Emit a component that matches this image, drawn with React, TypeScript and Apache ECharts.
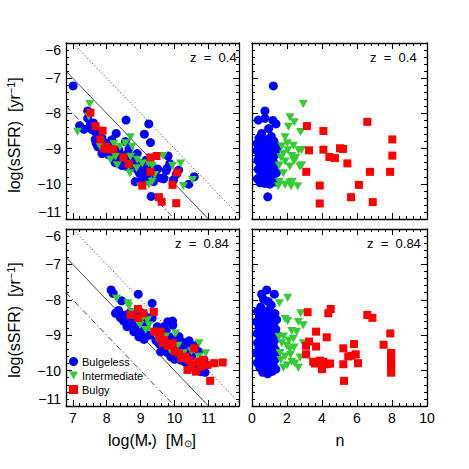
import { useEffect, useRef } from 'react';
import * as echarts from 'echarts';

const MASS_MIN = 6.8;
const MASS_MAX = 11.9;
const N_MIN = 0;
const N_MAX = 10;
const SSFR_MIN = -11;
const SSFR_MAX = -6;

// constant log SFR lines: log sSFR = c - log M
const sfrLevels = [1, 0, -1];
const sfrLineTypes: any[] = [[1.2, 2.2], 'solid', [6, 2.5, 1.2, 2.5]];

const classNames = ['Bulgeless', 'Intermediate', 'Bulgy'];
const classColors = ['#0000ff', '#33cc33', '#ff0000'];
const zLabels = ['z  =  0.4', 'z  =  0.84'];

// ---------- z = 0.4, log M vs log sSFR ----------
const tlBulgeless = [
  [7.01, -7.22], [7.2, -8.35], [7.33, -8.45], [7.44, -8.14], [7.44, -7.93], [7.52, -8.3], [7.56, -8.46],
  [7.61, -8.27], [7.66, -8.52], [7.72, -8.57], [7.76, -8.66], [7.66, -8.74], [7.69, -8.85], [7.74, -8.95],
  [7.8, -8.8], [7.86, -8.7], [7.86, -9.14], [7.9, -8.99], [7.95, -8.84], [8.0, -9.04], [8.06, -9.18],
  [8.1, -8.93], [8.15, -9.09], [8.2, -9.24], [8.25, -9.4], [8.28, -8.57], [8.3, -9.13], [8.36, -9.04],
  [8.4, -9.33], [8.45, -9.48], [8.5, -9.24], [8.55, -8.8], [8.57, -8.19], [8.6, -9.51], [8.62, -9.14],
  [8.66, -8.99], [8.7, -9.38], [8.75, -9.24], [8.8, -9.53], [8.84, -9.94], [8.86, -9.38], [8.9, -9.14],
  [8.93, -9.63], [8.97, -9.71], [9.0, -9.43], [9.05, -9.82], [9.1, -9.58], [9.11, -8.59], [9.16, -9.33],
  [9.2, -9.73], [9.24, -8.3], [9.29, -8.83], [9.3, -9.53], [9.31, -10.36], [9.36, -9.63], [9.38, -9.94],
  [9.45, -9.78], [9.5, -9.58], [9.6, -9.84], [9.68, -9.86], [9.75, -9.63], [9.78, -9.56], [9.81, -9.21],
  [9.86, -9.43], [9.97, -9.89], [10.05, -9.73], [10.12, -9.61], [10.42, -10.01], [10.58, -9.8],
  [9.0, -9.95], [9.15, -9.9], [8.45, -9.2], [8.15, -8.75],
];
const tlIntermediate = [
  [7.5, -7.73], [7.47, -8.09], [7.14, -8.52], [8.21, -8.87], [8.39, -8.95], [8.55, -8.85], [8.7, -8.68],
  [8.75, -8.95], [8.26, -9.23], [8.31, -9.47], [8.7, -9.23], [8.65, -9.51], [8.9, -9.32], [8.88, -9.56],
  [8.68, -9.7], [9.05, -9.42], [9.24, -9.42], [9.34, -9.49], [9.0, -10.08], [9.24, -10.03], [9.34, -9.94],
  [9.41, -9.75], [9.66, -9.21], [9.94, -9.49], [10.18, -9.42], [10.26, -10.06], [10.53, -9.89],
  [7.81, -8.95], [8.11, -9.32],
];
const tlBulgy = [
  [7.52, -7.98], [7.67, -8.36], [7.88, -8.49], [7.81, -8.74], [7.93, -9.0], [8.06, -9.02], [8.19, -9.02],
  [8.49, -9.25], [8.65, -9.44], [9.29, -9.25], [9.47, -9.21], [9.29, -9.66], [9.05, -10.05], [9.54, -10.38],
  [9.62, -10.51], [9.94, -10.03], [10.08, -9.68], [10.05, -10.55], [7.99, -8.95],
];

// ---------- z = 0.4, Sersic n vs log sSFR ----------
const trBulgeless = [
  [1.22, -7.22], [0.9, -10.37], [0.74, -7.93], [0.36, -8.19], [0.74, -8.14], [1.2, -8.2], [1.37, -8.3],
  [0.95, -8.43], [0.55, -8.57], [1.1, -8.65], [0.4, -8.7], [0.8, -8.75],
  [0.3, -8.86], [0.62, -8.8], [0.92, -8.87], [1.25, -8.79], [0.45, -8.96], [0.76, -8.98], [1.06, -8.94],
  [1.36, -8.91], [0.29, -9.06], [0.56, -9.09], [0.86, -9.04], [1.16, -9.11], [1.41, -9.03],
  [0.41, -9.21], [0.71, -9.17], [1.02, -9.23], [1.29, -9.19], [0.33, -9.33], [0.61, -9.36], [0.91, -9.3],
  [1.21, -9.37], [0.46, -9.46], [0.76, -9.49], [1.07, -9.44], [1.34, -9.46], [0.36, -9.59], [0.63, -9.61],
  [0.93, -9.57], [1.22, -9.61], [0.51, -9.73], [0.81, -9.7], [1.11, -9.75], [1.39, -9.69], [0.31, -9.86],
  [0.6, -9.84], [0.89, -9.89], [1.19, -9.85], [0.46, -9.97], [0.73, -9.99], [1.01, -10.01], [1.31, -9.95],
  [0.52, -9.27], [0.84, -9.52], [1.12, -9.29], [0.66, -9.02],
];
const trIntermediate = [
  [2.93, -7.73], [2.17, -8.11], [2.42, -8.25], [2.08, -8.38], [2.78, -8.53], [1.89, -8.68], [2.02, -8.85],
  [1.7, -8.93], [2.36, -8.92], [2.84, -9.04], [2.67, -9.05], [2.05, -9.05], [1.79, -9.15], [2.27, -9.21],
  [2.5, -9.27], [1.89, -9.37], [2.84, -9.47], [1.55, -9.48], [2.16, -9.51], [2.73, -9.51], [1.79, -9.7],
  [1.55, -9.94], [2.16, -9.96], [2.3, -9.94], [1.89, -10.03], [1.5, -10.07], [2.23, -10.07], [2.61, -10.07],
  [2.4, -9.35], [1.65, -9.25],
];
const trBulgy = [
  [3.14, -8.36], [4.08, -8.5], [6.59, -8.24], [8.02, -8.74], [3.26, -9.05], [4.08, -9.03], [4.42, -9.24],
  [4.74, -9.27], [5.03, -8.99], [5.2, -9.01], [5.45, -9.42], [8.02, -9.2], [3.1, -9.66], [6.74, -9.66],
  [7.89, -9.66], [3.87, -10.05], [6.11, -10.03], [5.66, -10.38], [6.9, -10.52], [3.87, -10.56],
];

// ---------- z = 0.84, log M vs log sSFR ----------
const blBulgeless = [
  [8.13, -7.72], [8.19, -7.82], [8.93, -7.84], [9.34, -8.1], [8.44, -8.03], [8.26, -8.38], [8.35, -8.3],
  [8.55, -8.43], [8.5, -8.6], [8.62, -8.52], [8.7, -8.57], [8.75, -8.7], [8.85, -8.45], [8.88, -8.8],
  [9.05, -8.62], [9.0, -8.9], [9.15, -8.75], [9.2, -8.5], [9.34, -8.52], [9.49, -8.76], [9.69, -8.76],
  [9.94, -8.6], [9.95, -8.72], [9.1, -8.9], [9.25, -9.0], [9.34, -8.99], [9.45, -9.15], [9.59, -9.09],
  [9.74, -9.18], [9.89, -9.28], [10.13, -9.04], [10.18, -9.28], [10.43, -9.16], [10.38, -9.37],
  [10.72, -9.47], [10.87, -9.7], [10.77, -10.03], [10.18, -9.7], [9.89, -9.61], [9.59, -9.47], [9.7, -9.35],
  [9.55, -9.25], [8.8, -8.9], [8.6, -8.76], [8.95, -9.05], [9.1, -9.12], [9.8, -9.5], [10.0, -9.4],
  [10.05, -9.55], [10.3, -9.5], [10.5, -9.6], [10.6, -9.85], [10.3, -9.75], [10.0, -9.68], [9.65, -9.0],
  [9.85, -9.05], [10.1, -9.1], [10.25, -9.2], [8.7, -8.35], [9.0, -8.35], [8.4, -8.5], [9.75, -8.88],
  [9.8, -8.62], [10.6, -9.3], [10.45, -9.9], [10.7, -9.95], [10.9, -10.05],
];
const blIntermediate = [
  [8.29, -7.96], [8.62, -8.1], [8.65, -8.18], [8.75, -8.35], [9.05, -8.52], [9.2, -8.57], [8.98, -8.71],
  [9.25, -8.72], [9.1, -8.45], [9.34, -8.9], [9.74, -9.04], [10.03, -8.95], [9.87, -9.42], [10.26, -9.51],
  [10.72, -9.61], [10.92, -9.51], [10.72, -9.23], [9.5, -9.1], [10.1, -9.3], [8.95, -8.6], [9.15, -8.85],
  [10.5, -9.45],
];
const blBulgy = [
  [8.7, -8.43], [8.92, -8.26], [9.08, -8.38], [9.39, -8.34], [8.93, -8.51], [9.41, -8.9], [9.59, -8.9],
  [9.69, -9.14], [9.65, -9.22], [9.94, -9.23], [10.13, -9.51], [10.33, -9.61], [10.58, -9.37],
  [10.42, -9.7], [10.68, -9.75], [10.77, -9.89], [10.97, -9.84], [11.17, -9.79], [11.42, -9.77],
  [10.63, -10.03], [10.38, -9.98], [11.05, -10.29], [9.8, -9.3], [10.0, -9.45], [10.5, -9.85],
  [10.85, -9.7], [10.2, -9.65], [9.55, -9.05],
];

// ---------- z = 0.84, Sersic n vs log sSFR ----------
const brBulgeless = [
  [0.84, -7.72], [0.55, -7.84], [1.28, -7.84], [0.65, -7.98], [0.93, -8.05], [0.5, -8.2], [1.1, -8.15],
  [0.31, -8.33], [0.63, -8.36], [0.96, -8.29], [1.31, -8.39], [0.42, -8.47], [0.79, -8.51], [1.13, -8.45],
  [1.41, -8.56], [0.27, -8.62], [0.58, -8.66], [0.91, -8.6], [1.23, -8.69], [0.41, -8.78], [0.73, -8.81],
  [1.06, -8.75], [1.36, -8.83], [0.3, -8.95], [0.61, -8.92], [0.87, -8.97], [1.18, -8.9], [1.43, -8.99],
  [0.46, -9.08], [0.76, -9.11], [1.05, -9.06], [1.31, -9.13], [0.32, -9.22], [0.63, -9.25], [0.93, -9.2],
  [1.21, -9.27], [0.4, -9.37], [0.71, -9.38], [1.01, -9.34], [1.33, -9.41], [0.28, -9.5], [0.56, -9.53],
  [0.86, -9.48], [1.16, -9.55], [1.42, -9.5], [0.43, -9.64], [0.73, -9.67], [1.03, -9.62], [1.31, -9.69],
  [0.3, -9.78], [0.61, -9.81], [0.9, -9.76], [1.21, -9.83], [0.45, -9.92], [0.76, -9.95], [1.06, -9.9],
  [1.36, -9.96], [0.61, -10.05], [0.9, -10.09], [1.16, -10.02], [0.52, -9.15], [0.82, -9.6], [1.12, -8.62],
];
const brIntermediate = [
  [2.04, -7.94], [1.56, -8.1], [2.78, -8.38], [1.89, -8.54], [2.04, -8.6], [2.65, -8.63], [2.93, -8.72],
  [1.79, -9.04], [2.27, -8.88], [2.55, -8.9], [2.36, -9.1], [2.93, -9.23], [1.7, -9.23], [1.98, -9.3],
  [2.17, -9.4], [2.4, -9.35], [1.6, -9.5], [1.89, -9.6], [2.2, -9.55], [2.74, -9.63], [1.79, -9.92],
  [2.65, -9.92], [2.27, -9.75], [1.65, -9.7], [2.0, -9.85], [2.45, -9.8], [1.55, -9.05], [2.1, -9.15],
];
const brBulgy = [
  [3.18, -8.35], [4.36, -8.38], [4.5, -8.26], [6.59, -8.43], [6.88, -8.51], [3.66, -8.9], [4.27, -9.06],
  [7.9, -8.95], [3.26, -9.18], [3.09, -9.3], [3.66, -9.32], [5.83, -9.25], [7.52, -9.27], [5.22, -9.37],
  [3.09, -9.54], [5.93, -9.54], [5.5, -9.6], [5.69, -9.58], [3.5, -9.75], [3.89, -9.72], [4.08, -9.75],
  [3.6, -9.8], [4.27, -9.82], [4.0, -9.96], [4.46, -9.8], [5.22, -9.82], [6.06, -9.79], [5.26, -10.29],
  [7.95, -9.5], [7.95, -9.58], [7.95, -9.66], [7.95, -9.74], [7.95, -9.82], [7.95, -9.9], [7.95, -9.98],
  [7.95, -10.06],
];

const FONT = '"Liberation Sans", Arial, Helvetica, sans-serif';
const TRI = 'path://M0,0L10,0L5,9Z';
const classSymbols = ['circle', TRI, 'rect'];
const classSizes: any[] = [9, [9, 8], 8];

const panels = [
  { rect: { left: 66, top: 43, width: 173, height: 176 }, kind: 'mass', data: [tlBulgeless, tlIntermediate, tlBulgy], showX: false, showY: true, z: 0, zx: 190, zy: 57 },
  { rect: { left: 252, top: 43, width: 175, height: 176 }, kind: 'n', data: [trBulgeless, trIntermediate, trBulgy], showX: false, showY: false, z: 0, zx: 370, zy: 57 },
  { rect: { left: 66, top: 229, width: 173, height: 177 }, kind: 'mass', data: [blBulgeless, blIntermediate, blBulgy], showX: true, showY: true, z: 1, zx: 175, zy: 243 },
  { rect: { left: 252, top: 229, width: 175, height: 177 }, kind: 'n', data: [brBulgeless, brIntermediate, brBulgy], showX: true, showY: false, z: 1, zx: 367, zy: 243 },
];

const minus = (v: number) => String(v).replace('-', '\u2212');

function makeAxis(gridIndex: number, position: string, showLabel: boolean, range: any) {
  const ax: any = {
    type: 'value',
    gridIndex,
    position,
    min: range.min,
    max: range.max,
    axisLine: { show: true, onZero: false, lineStyle: { color: '#000', width: 1.3 } },
    axisTick: { show: true, inside: true, length: 6, lineStyle: { color: '#000', width: 1 } },
    minorTick: { show: true, splitNumber: 5, length: 3, lineStyle: { color: '#000', width: 1 } },
    splitLine: { show: false },
    minorSplitLine: { show: false },
    axisLabel: {
      show: showLabel,
      color: '#000',
      fontSize: 14,
      fontFamily: FONT,
      margin: 5,
      formatter: (v: number) => (Math.abs(v - Math.round(v)) < 1e-6 ? minus(Math.round(v)) : ''),
    },
  };
  if (range.interval) ax.interval = range.interval;
  else ax.splitNumber = range.splitNumber;
  return ax;
}

export default function App() {
  const ref = useRef<HTMLDivElement>(null);
  useEffect(() => {
    const chart = echarts.init(ref.current!, null, { renderer: 'svg' });
    const grid: any[] = [];
    const xAxis: any[] = [];
    const yAxis: any[] = [];
    const series: any[] = [];
    const graphic: any[] = [];
    const yRange = { min: SSFR_MIN, max: SSFR_MAX, interval: 1 };
    panels.forEach((p, i) => {
      grid.push({ ...p.rect, containLabel: false });
      const xRange = p.kind === 'mass'
        ? { min: MASS_MIN, max: MASS_MAX, splitNumber: 5 }
        : { min: N_MIN, max: N_MAX, interval: 2 };
      xAxis.push(makeAxis(i, 'bottom', p.showX, xRange));
      xAxis.push(makeAxis(i, 'top', false, xRange));
      const yl = makeAxis(i, 'left', p.showY, yRange);
      yl.axisLabel.verticalAlignMaxLabel = 'top';
      yl.axisLabel.verticalAlignMinLabel = 'bottom';
      yAxis.push(yl);
      yAxis.push(makeAxis(i, 'right', false, yRange));
      if (p.kind === 'mass') {
        sfrLevels.forEach((c, k) => {
          series.push({
            type: 'line',
            xAxisIndex: 2 * i,
            yAxisIndex: 2 * i,
            data: [[MASS_MIN, c - MASS_MIN], [MASS_MAX, c - MASS_MAX]],
            symbol: 'none',
            clip: true,
            silent: true,
            lineStyle: { color: '#333', width: 0.9, type: sfrLineTypes[k] },
            z: 1,
          });
        });
      }
      p.data.forEach((d, k) => {
        series.push({
          name: classNames[k],
          type: 'scatter',
          xAxisIndex: 2 * i,
          yAxisIndex: 2 * i,
          data: d,
          symbol: classSymbols[k],
          symbolSize: classSizes[k],
          itemStyle: { color: classColors[k], opacity: 1 },
          z: 2 + k,
        });
      });
      graphic.push({
        type: 'text',
        x: p.zx,
        y: p.zy,
        style: { text: zLabels[p.z], font: `13px ${FONT}`, fill: '#000', verticalAlign: 'middle', align: 'left' },
      });
    });
    // axis titles
    [135, 320].forEach((cy) => {
      graphic.push({
        type: 'text',
        x: 14,
        y: cy,
        rotation: Math.PI / 2,
        style: {
          text: 'log(sSFR)  [yr{sup|\u22121}]',
          font: `16px ${FONT}`,
          fill: '#000',
          align: 'center',
          verticalAlign: 'middle',
          rich: { sup: { fontSize: 11, fontFamily: FONT, verticalAlign: 'top', padding: [0, 0, 7, 0] } },
        },
      });
    });
    graphic.push({
      type: 'text',
      x: 152,
      y: 440,
      style: {
        text: 'log(M{sub|\u2022})  [M{sub|\u2299}]',
        font: `16px ${FONT}`,
        fill: '#000',
        align: 'center',
        verticalAlign: 'middle',
        rich: { sub: { fontSize: 10, fontFamily: FONT, padding: [6, 0, 0, 0] } },
      },
    });
    graphic.push({
      type: 'text',
      x: 340,
      y: 440,
      style: { text: 'n', font: `16px ${FONT}`, fill: '#000', align: 'center', verticalAlign: 'middle' },
    });

    chart.setOption({
      animation: false,
      backgroundColor: '#fff',
      grid,
      xAxis,
      yAxis,
      series,
      graphic,
      legend: {
        data: classNames.map((name, k) => ({ name, icon: classSymbols[k] })),
        orient: 'vertical',
        left: 69,
        top: 356,
        itemWidth: 9,
        itemHeight: 9,
        itemGap: 3,
        padding: 0,
        selectedMode: false,
        textStyle: { fontSize: 11, fontFamily: FONT, color: '#000', padding: [0, 0, 0, -1] },
      },
    });
    return () => chart.dispose();
  }, []);
  return (
    <div
      ref={ref}
      style={{ position: 'fixed', left: 0, top: 0, width: 469, height: 469, background: '#fff' }}
    />
  );
}
